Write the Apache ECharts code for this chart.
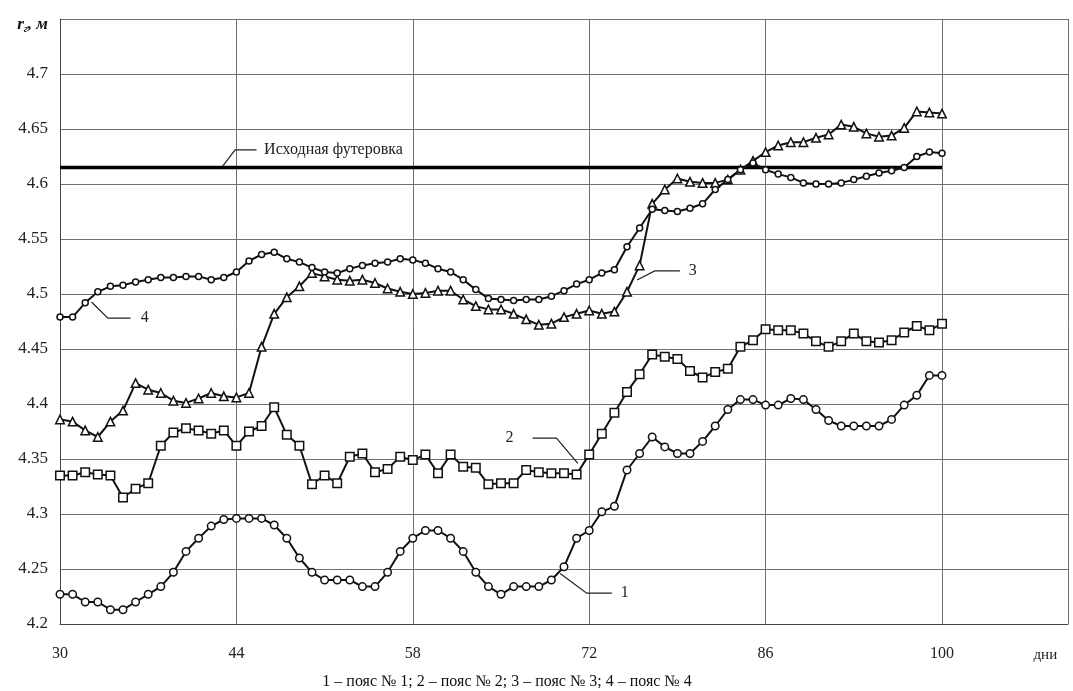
<!DOCTYPE html>
<html>
<head>
<meta charset="utf-8">
<script src="https://cdn.jsdelivr.net/npm/echarts@6/dist/echarts.min.js"></script>
<style>
html,body{margin:0;padding:0;background:#fff;}
#chart{width:1073px;height:691px;}
</style>
</head>
<body>
<div id="chart"></div>
<script>
// ---- data ----
const days = [30,31,32,33,34,35,36,37,38,39,40,41,42,43,44,45,46,47,48,49,50,51,52,53,54,55,56,57,58,59,60,61,62,63,64,65,66,67,68,69,70,71,72,73,74,75,76,77,78,79,80,81,82,83,84,85,86,87,88,89,90,91,92,93,94,95,96,97,98,99,100];

const belt1 = [4.227,4.227,4.220,4.220,4.213,4.213,4.220,4.227,4.234,4.247,4.266,4.278,4.289,4.295,4.296,4.296,4.296,4.290,4.278,4.260,4.247,4.240,4.240,4.240,4.234,4.234,4.247,4.266,4.278,4.285,4.285,4.278,4.266,4.247,4.234,4.227,4.234,4.234,4.234,4.240,4.252,4.278,4.285,4.302,4.307,4.340,4.355,4.370,4.361,4.355,4.355,4.366,4.380,4.395,4.404,4.404,4.399,4.399,4.405,4.404,4.395,4.385,4.380,4.380,4.380,4.380,4.386,4.399,4.408,4.426,4.426];

const belt2 = [4.335,4.335,4.338,4.336,4.335,4.315,4.323,4.328,4.362,4.374,4.378,4.376,4.373,4.376,4.362,4.375,4.380,4.397,4.372,4.362,4.327,4.335,4.328,4.352,4.355,4.338,4.341,4.352,4.349,4.354,4.337,4.354,4.343,4.342,4.327,4.328,4.328,4.340,4.338,4.337,4.337,4.336,4.354,4.373,4.392,4.411,4.427,4.445,4.443,4.441,4.430,4.424,4.429,4.432,4.452,4.458,4.468,4.467,4.467,4.464,4.457,4.452,4.457,4.464,4.457,4.456,4.458,4.465,4.471,4.467,4.473];

const belt3 = [4.386,4.384,4.376,4.370,4.384,4.394,4.419,4.413,4.410,4.403,4.401,4.405,4.410,4.407,4.406,4.410,4.452,4.482,4.497,4.507,4.519,4.516,4.513,4.512,4.513,4.510,4.505,4.502,4.500,4.501,4.503,4.503,4.495,4.489,4.486,4.486,4.482,4.477,4.472,4.473,4.479,4.482,4.485,4.482,4.484,4.502,4.526,4.582,4.595,4.605,4.602,4.601,4.601,4.604,4.613,4.621,4.629,4.635,4.638,4.638,4.642,4.645,4.654,4.652,4.646,4.643,4.644,4.651,4.666,4.665,4.664];

const belt4 = [4.479,4.479,4.492,4.502,4.507,4.508,4.511,4.513,4.515,4.515,4.516,4.516,4.513,4.515,4.520,4.530,4.536,4.538,4.532,4.529,4.524,4.520,4.519,4.523,4.526,4.528,4.529,4.532,4.531,4.528,4.523,4.520,4.513,4.504,4.496,4.495,4.494,4.495,4.495,4.498,4.503,4.509,4.513,4.519,4.522,4.543,4.560,4.577,4.576,4.575,4.578,4.582,4.595,4.604,4.613,4.619,4.613,4.609,4.606,4.601,4.600,4.600,4.601,4.604,4.607,4.610,4.612,4.615,4.625,4.629,4.628];

const initialLining = 4.615;           // Исходная футеровка
const initialLiningDays = [30, 100];

const xTicks = [30, 44, 58, 72, 86, 100];
const xAxisName = 'дни';
const liningLabel = 'Исходная футеровка';
const legendText = '1 – пояс № 1; 2 – пояс № 2; 3 – пояс № 3; 4 – пояс № 4';

// annotation leaders in data coordinates: polyline points, label text, label anchor
const annotations = [
  {text: '4', pts: [[32.5, 4.4927], [33.8, 4.478], [35.6, 4.478]], at: [36.4, 4.478]},
  {text: '3', pts: [[75.8, 4.5127], [77.2, 4.521], [79.2, 4.521]], at: [79.9, 4.521]},
  {text: '2', pts: [[71.1, 4.346], [69.4, 4.369], [67.5, 4.369]], at: [66.0, 4.369], left: true},
  {text: '1', pts: [[69.7, 4.246], [71.8, 4.228], [73.8, 4.228]], at: [74.5, 4.228]},
  {text: liningLabel, pts: [[42.9, 4.616], [43.9, 4.631], [45.6, 4.631]], at: [46.2, 4.631]}
];

// ---- chart ----
const FONT = "'Liberation Serif', 'Times New Roman', serif";
const chart = echarts.init(document.getElementById('chart'), null, {renderer: 'canvas'});

function pairs(vals) { return days.map((d, i) => [d, vals[i]]); }

const lineStyle = {color: '#111', width: 2};
const itemStyle = {color: '#fff', borderColor: '#111', borderWidth: 1.5};

const option = {
  backgroundColor: '#fff',
  animation: false,
  grid: {left: 60, right: 5, top: 19, bottom: 67, containLabel: false},
  xAxis: {
    type: 'value', min: 30, max: 110, interval: 14,
    axisLine: {show: true, lineStyle: {color: '#444', width: 1}},
    axisTick: {show: false},
    splitLine: {show: true, lineStyle: {color: '#707070', width: 1}},
    axisLabel: {
      fontFamily: FONT, fontSize: 16, color: '#222', margin: 22,
      formatter: v => xTicks.indexOf(v) >= 0 ? String(v) : ''
    }
  },
  yAxis: {
    type: 'value', min: 4.2, max: 4.75, interval: 0.05,
    axisLine: {show: true, lineStyle: {color: '#444', width: 1}},
    axisTick: {show: false},
    splitLine: {show: true, lineStyle: {color: '#707070', width: 1}},
    axisLabel: {
      fontFamily: FONT, fontSize: 17, color: '#222', margin: 12,
      formatter: v => {
        const r = Math.round(v * 100) / 100;
        if (r >= 4.75) return '{n|r}{s|г}{n|, м}';
        return String(parseFloat(r.toFixed(2)));
      },
      rich: {
        n: {fontFamily: FONT, fontSize: 17, fontWeight: 'bold', fontStyle: 'italic', color: '#111', padding: [12, 0, 0, 0]},
        s: {fontFamily: FONT, fontSize: 11, fontWeight: 'bold', fontStyle: 'italic', color: '#111', padding: [20, 0, 0, 0]}
      }
    }
  },
  series: [
    {
      name: 'Исходная футеровка', type: 'line', silent: true,
      data: initialLiningDays.map(d => [d, initialLining]),
      symbol: 'none', lineStyle: {color: '#000', width: 3.5}, z: 1
    },
    {
      name: 'пояс № 1', type: 'line', data: pairs(belt1),
      symbol: 'circle', symbolSize: 7.5, showAllSymbol: true,
      lineStyle, itemStyle, z: 3
    },
    {
      name: 'пояс № 2', type: 'line', data: pairs(belt2),
      symbol: 'rect', symbolSize: 8.5, showAllSymbol: true,
      lineStyle, itemStyle, z: 3
    },
    {
      name: 'пояс № 3', type: 'line', data: pairs(belt3),
      symbol: 'triangle', symbolSize: 8.5, showAllSymbol: true,
      lineStyle, itemStyle, z: 3
    },
    {
      name: 'пояс № 4', type: 'line', data: pairs(belt4),
      symbol: 'circle', symbolSize: 6, showAllSymbol: true,
      lineStyle, itemStyle, z: 3
    }
  ]
};
chart.setOption(option);

// annotations (leader lines + labels) positioned through the chart's scales
const graphics = [];
annotations.forEach(a => {
  const pts = a.pts.map(p => chart.convertToPixel({gridIndex: 0}, p));
  const at = chart.convertToPixel({gridIndex: 0}, a.at);
  graphics.push({
    type: 'polyline', silent: true, z: 10,
    shape: {points: pts},
    style: {stroke: '#222', lineWidth: 1.2, fill: null}
  });
  graphics.push({
    type: 'text', silent: true, z: 10,
    x: at[0], y: at[1],
    style: {
      text: a.text, fontFamily: FONT, fontSize: 16, fill: '#222',
      textAlign: a.left ? 'right' : 'left', textVerticalAlign: 'middle'
    }
  });
});
const xEnd = chart.convertToPixel({gridIndex: 0}, [108.2, 4.2]);
graphics.push({
  type: 'text', silent: true, x: xEnd[0], y: xEnd[1] + 31,
  style: {text: xAxisName, fontFamily: FONT, fontSize: 15, fill: '#222', textAlign: 'center', textVerticalAlign: 'middle'}
});
graphics.push({
  type: 'text', silent: true, x: 507, y: 682,
  style: {text: legendText, fontFamily: FONT, fontSize: 16, fill: '#111', textAlign: 'center', textVerticalAlign: 'middle'}
});
chart.setOption({graphic: graphics});
</script>
</body>
</html>
